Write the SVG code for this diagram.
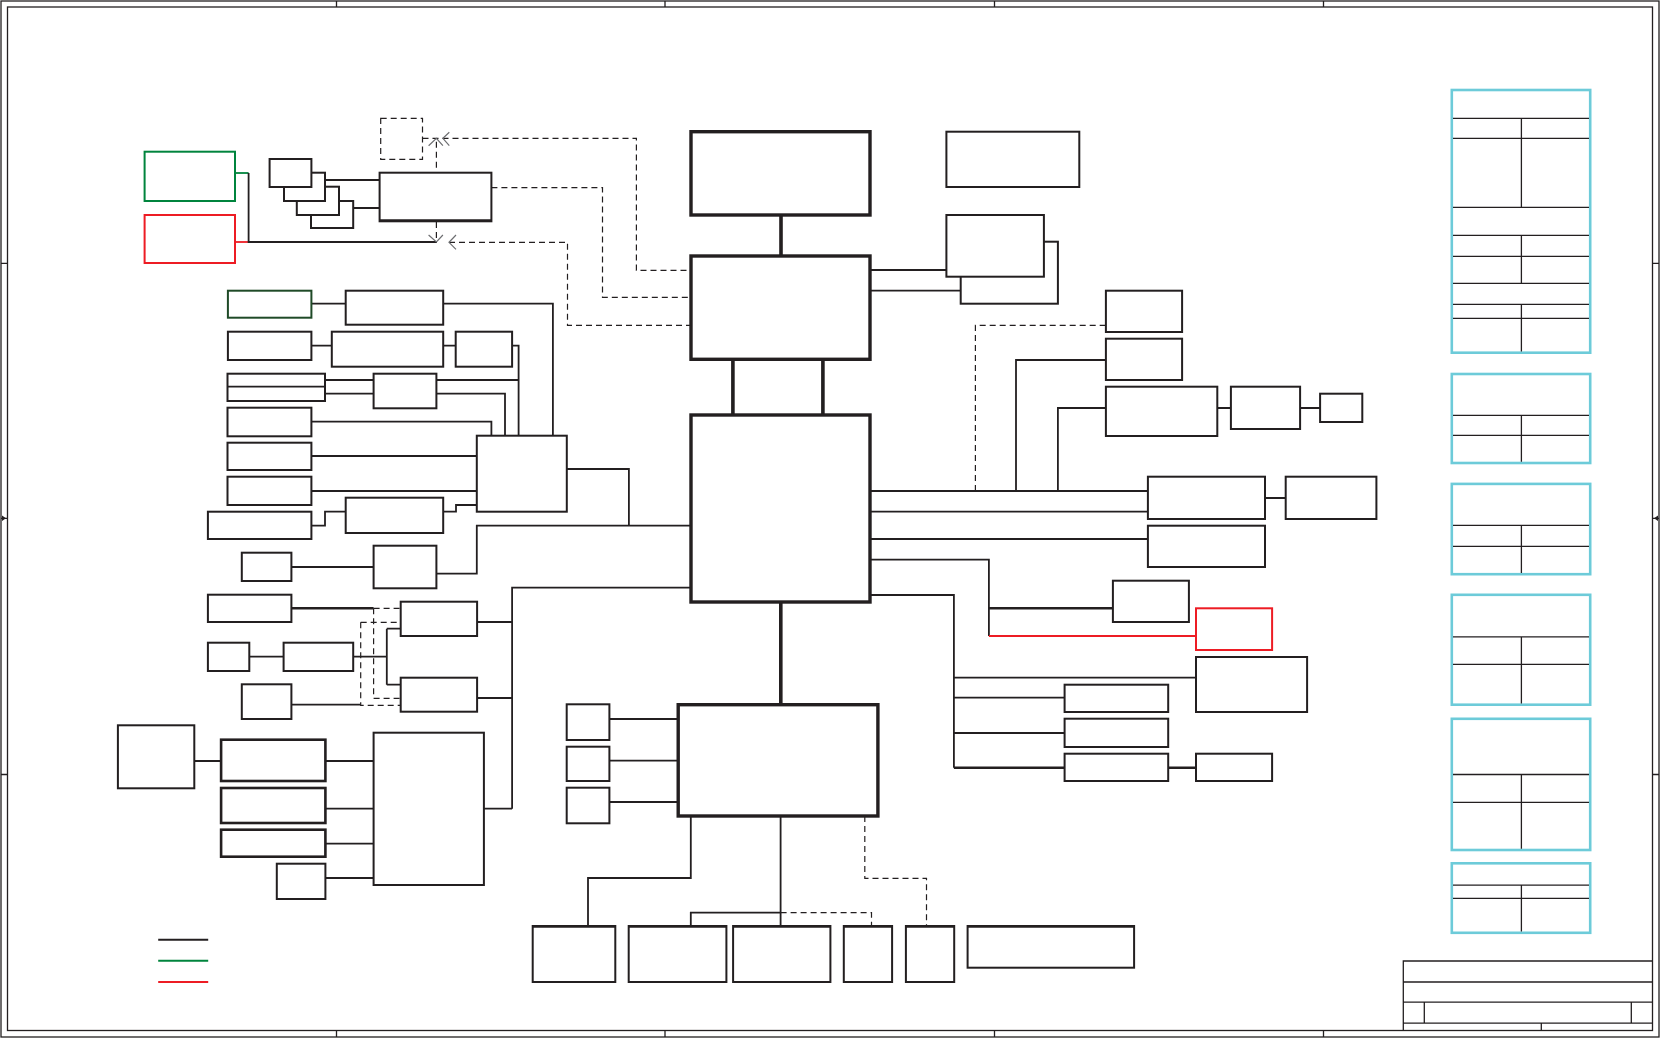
<svg xmlns="http://www.w3.org/2000/svg" width="1660" height="1038" viewBox="0 0 1660 1038">
<style>
.bx{fill:#fff;stroke:#231f20;stroke-width:2}
.bxt{fill:#fff;stroke:#231f20;stroke-width:2.6}
.chip{fill:#fff;stroke:#231f20;stroke-width:3.4}
.ln{fill:none;stroke:#231f20;stroke-width:1.8}
.lnt{fill:none;stroke:#231f20;stroke-width:2.6}
.lnc{fill:none;stroke:#231f20;stroke-width:3.6}
.ds{fill:none;stroke:#231f20;stroke-width:1.2;stroke-dasharray:6 4}
.ar{fill:none;stroke:#6d6e71;stroke-width:1.2}
.fr{fill:none;stroke:#231f20;stroke-width:1.3}
.tb{fill:none;stroke:#6dcbd9;stroke-width:2.6}
.tl{fill:none;stroke:#231f20;stroke-width:1.3}
.grn{fill:#fff;stroke:#00843d;stroke-width:2}
.red{fill:#fff;stroke:#ed1c24;stroke-width:2}
</style>
<rect width="1660" height="1038" fill="#fff"/>
<g id="frame">
<rect class="fr" x="1" y="1" width="1658" height="1036"/>
<rect class="fr" x="7.5" y="7" width="1645" height="1023.5"/>
<path class="fr" d="M336.5 1V7M665 1V7M994.5 1V7M1323.5 1V7M336.5 1030.5V1037M665 1030.5V1037M994.5 1030.5V1037M1323.5 1030.5V1037M1 263.3H7.5M1 774.5H7.5M1652.5 263.3H1659M1652.5 774.5H1659M1 518.3H7.5M1652.5 518.3H1659"/>
<path d="M2 515.5L6 518.3L2 521.1Z M1658 515.5L1654 518.3L1658 521.1Z" fill="#231f20"/>
</g>
<g id="connectors">
<path d="M235 173H248.6" stroke="#00843d" stroke-width="1.8" fill="none"/>
<path d="M235 242H248.6" stroke="#ed1c24" stroke-width="1.8" fill="none"/>
<path class="ln" d="M248.6 173V242H437"/>
<path class="ln" d="M311.4 173H325V201M325 180H379.6M339 201V215M353.2 208H379.6"/>
<path class="ds" d="M422.5 138.3H636.4V270.3H691"/>
<path class="ds" d="M436.4 167.7V139"/>
<path class="ds" d="M491.4 187.7H602.5V297.3H691"/>
<path class="ds" d="M436.4 222V241"/>
<path class="ds" d="M449 242.3H567.5V325.3H691"/>
<path class="ar" d="M428.6 145.7L436.4 138.3L442.9 145.7M449.3 132.3L442.9 138.3L449.3 145.7M428.6 235L436.4 242L442.9 235M456 235L449 242.3L456 249.3"/>
<path class="lnc" d="M781 215V256M732.9 359V415M822.9 359V415M780.8 602V704.7"/>
<path class="ln" d="M870 270H946.4M870 290.7H960.7"/>
<path class="ds" d="M975.4 491V325.3H1105.9"/>
<path class="ln" d="M1016 491V360H1105.9M1057.9 491V408H1105.9M1217.3 408H1230.9M1300.1 408H1320.1"/>
<path class="ln" d="M870 491H1147.9M870 511.7H1147.9M870 539H1147.9M1265 498H1285.7"/>
<path class="ln" d="M870 559.7H988.9V636"/>
<path d="M988.9 636H1196" stroke="#ed1c24" stroke-width="1.8" fill="none"/>
<path class="lnt" d="M988.9 608.3H1112.9"/>
<path class="ln" d="M870 595H953.9V767.7M953.9 677.7H1196M953.9 697.7H1064.6M953.9 733H1064.6"/>
<path class="lnt" d="M953.9 767.7H1064.6M1168.2 767.7H1196"/>
<path class="ln" d="M311.4 303.7H345.7M443.2 303.7H552.9V435.7"/>
<path class="ln" d="M311.4 345.7H331.8M443.2 345.7H455.7M512.1 345.7H518.6V435.7"/>
<path class="ln" d="M325 380H373.6M325 393.7H373.6M436.4 380H518.6M436.4 393.7H505V435.7"/>
<path class="ln" d="M311.4 421.7H491.4V435.7M311.4 456H476.8M311.4 491H476.8"/>
<path class="ln" d="M311.4 525.7H325V511.7H345.7M443.2 511.7H456V505H476.8"/>
<path class="ln" d="M566.8 469H628.9V525.7M691 525.7H476.8V573.7H436.4M291.4 567H373.6"/>
<path class="ln" d="M691 587.6H512.1V808.7M477.1 622H512.1M477.1 698H512.1M483.9 808.7H512.1"/>
<path class="lnt" d="M291.4 608.3H373.6"/>
<path class="ds" d="M373.6 608.3H400.7M373.6 608.3V698.3H400.7M360.7 622.3H400.7M360.7 622.3V705.3H400.7"/>
<path class="ln" d="M249.3 656.7H283.6M353.2 656.7H386.8M386.8 628.7V684.7M386.8 628.7H400.7M386.8 684.7H400.7M291.4 704.7H360.7"/>
<path class="ln" d="M194.3 761H221.1M325.4 761H373.6M325.4 808.7H373.6M325.4 843.7H373.6M325.4 878H373.6"/>
<path class="ln" d="M609.4 719H678.2M609.4 760.7H678.2M609.4 802H678.2"/>
<path class="ln" d="M690.8 816V878H588V926M780.6 816V926M780.6 912.7H690.8V926"/>
<path class="ds" d="M780.6 912.7H871.5V926M864.8 816V878.3H926.5V926"/>
</g>
<g id="legend">
<path d="M158.2 939.7H208.2" stroke="#231f20" stroke-width="2"/>
<path d="M158.2 960.7H208.2" stroke="#00843d" stroke-width="2"/>
<path d="M158.2 982H208.2" stroke="#ed1c24" stroke-width="2"/>
</g>
<g id="pwr-green"><rect class="grn" x="144.6" y="151.7" width="90.4" height="49.3"/></g>
<g id="pwr-red"><rect class="red" x="144.6" y="215" width="90.4" height="48"/></g>
<g id="stack4"><rect class="bx" x="311" y="201" width="42.2" height="27"/></g>
<g id="stack3"><rect class="bx" x="296.8" y="186.7" width="42.2" height="28.3"/></g>
<g id="stack2"><rect class="bx" x="284" y="172.7" width="41" height="28.3"/></g>
<g id="stack1"><rect class="bx" x="269.6" y="159" width="41.8" height="28"/></g>
<g id="nodeH"><rect class="bx" x="379.6" y="172.7" width="111.8" height="48.6"/><path class="lnt" d="M379.6 220.6H491.4"/></g>
<g id="dashbox"><rect class="ds" x="380.7" y="118.3" width="41.8" height="41"/></g>
<g id="chip1"><rect class="chip" x="691" y="131.7" width="179" height="83.3"/></g>
<g id="chip2"><rect class="chip" x="691" y="256" width="179" height="103.3"/></g>
<g id="chip3"><rect class="chip" x="691" y="415" width="179" height="187"/></g>
<g id="chip4"><rect class="chip" x="678.2" y="704.7" width="199.7" height="111.3"/></g>
<g id="boxA"><rect class="bx" x="946.4" y="131.7" width="132.9" height="55.3"/></g>
<g id="boxB2"><rect class="bx" x="960.7" y="241.7" width="97.2" height="62"/></g>
<g id="boxB"><rect class="bx" x="946.4" y="215" width="97.5" height="61.7"/></g>
<g id="boxC"><rect class="bx" x="1105.9" y="290.7" width="76.2" height="41.3"/></g>
<g id="boxD"><rect class="bx" x="1105.9" y="338.7" width="76.2" height="41.3"/></g>
<g id="boxE"><rect class="bx" x="1105.9" y="386.7" width="111.4" height="49.3"/></g>
<g id="boxF"><rect class="bx" x="1230.9" y="386.7" width="69.2" height="42.3"/></g>
<g id="boxG"><rect class="bx" x="1320.1" y="393.7" width="42.2" height="28.3"/></g>
<g id="boxCA"><rect class="bx" x="1147.9" y="476.7" width="117.1" height="42.3"/></g>
<g id="boxCB"><rect class="bx" x="1285.7" y="476.7" width="90.7" height="42.3"/></g>
<g id="boxCC"><rect class="bx" x="1147.9" y="525.7" width="117.1" height="41.3"/></g>
<g id="boxCD"><rect class="bx" x="1112.9" y="580.7" width="76" height="41.3"/></g>
<g id="boxCE"><rect class="red" x="1196" y="608.3" width="76.1" height="41.7"/></g>
<g id="boxCF"><rect class="bx" x="1196" y="657" width="111.1" height="55"/></g>
<g id="boxCG"><rect class="bx" x="1064.6" y="684.7" width="103.6" height="27.3"/></g>
<g id="boxCH"><rect class="bx" x="1064.6" y="718.7" width="103.6" height="28.3"/></g>
<g id="boxCI"><rect class="bx" x="1064.6" y="753.7" width="103.6" height="27.3"/></g>
<g id="boxCJ"><rect class="bx" x="1196" y="753.7" width="76.1" height="27.3"/></g>
<g id="boxDG"><rect x="227.9" y="290.7" width="83.5" height="27" fill="#fff" stroke="#1f4a27" stroke-width="2"/></g>
<g id="boxI"><rect class="bx" x="345.7" y="290.7" width="97.5" height="34"/></g>
<g id="boxJ"><rect class="bx" x="227.9" y="331.7" width="83.5" height="28.3"/></g>
<g id="boxK"><rect class="bx" x="331.8" y="331.7" width="111.4" height="35"/></g>
<g id="boxL"><rect class="bx" x="455.7" y="331.7" width="56.4" height="35"/></g>
<g id="boxM"><rect class="bx" x="227.5" y="373.7" width="97.5" height="27.3"/><path class="ln" d="M227.5 386.7H325"/></g>
<g id="boxN"><rect class="bx" x="373.6" y="373.7" width="62.8" height="34.6"/></g>
<g id="boxO"><rect class="bx" x="227.5" y="407.7" width="83.9" height="28.6"/></g>
<g id="hubP"><rect class="bx" x="476.8" y="435.7" width="90" height="76"/></g>
<g id="boxQ"><rect class="bx" x="227.5" y="442.7" width="83.9" height="27.3"/></g>
<g id="boxR"><rect class="bx" x="227.5" y="476.7" width="83.9" height="28.3"/></g>
<g id="boxS"><rect class="bx" x="207.9" y="511.7" width="103.5" height="27.3"/></g>
<g id="boxT"><rect class="bx" x="345.7" y="497.7" width="97.5" height="35.3"/></g>
<g id="boxU"><rect class="bx" x="373.6" y="545.7" width="62.8" height="42.6"/></g>
<g id="boxV"><rect class="bx" x="241.8" y="552.7" width="49.6" height="28.3"/></g>
<g id="boxW"><rect class="bx" x="207.9" y="594.7" width="83.5" height="27.3"/></g>
<g id="boxX1"><rect class="bx" x="400.7" y="601.7" width="76.4" height="34.3"/></g>
<g id="boxX2"><rect class="bx" x="400.7" y="677.7" width="76.4" height="34"/></g>
<g id="boxY"><rect class="bx" x="207.9" y="642.7" width="41.4" height="28.3"/></g>
<g id="boxZ"><rect class="bx" x="283.6" y="642.7" width="69.6" height="28.3"/></g>
<g id="boxAA"><rect class="bx" x="241.8" y="684.3" width="49.6" height="34.7"/></g>
<g id="boxAB"><rect class="bx" x="117.9" y="725.3" width="76.4" height="63"/></g>
<g id="boxAC"><rect class="bxt" x="221.1" y="739.7" width="104.3" height="41.3"/></g>
<g id="boxAD"><rect class="bxt" x="221.1" y="788" width="104.3" height="35"/></g>
<g id="boxAE"><rect class="bxt" x="221.1" y="829.7" width="104.3" height="27"/></g>
<g id="boxAF"><rect class="bx" x="276.8" y="863.7" width="48.6" height="35.3"/></g>
<g id="boxAG"><rect class="bx" x="373.6" y="732.7" width="110.3" height="152.3"/></g>
<g id="sm1"><rect class="bx" x="566.7" y="704.3" width="42.7" height="35.7"/></g>
<g id="sm2"><rect class="bx" x="566.7" y="746.7" width="42.7" height="34.3"/></g>
<g id="sm3"><rect class="bx" x="566.7" y="787.7" width="42.7" height="35.6"/></g>
<g id="boxBA"><rect class="bx" x="532.7" y="926" width="82.6" height="56"/><path class="lnt" d="M532.7 926.4H615.3"/></g>
<g id="boxBB"><rect class="bx" x="628.7" y="926" width="97.7" height="56"/><path class="lnt" d="M628.7 926.4H726.4"/></g>
<g id="boxBC"><rect class="bx" x="733.1" y="926" width="97.3" height="56"/><path class="lnt" d="M733.1 926.4H830.4"/></g>
<g id="boxBD"><rect class="bx" x="843.8" y="926" width="48.3" height="56"/><path class="lnt" d="M843.8 926.4H892.1"/></g>
<g id="boxBE"><rect class="bx" x="905.9" y="926" width="48.3" height="56"/><path class="lnt" d="M905.9 926.4H954.2"/></g>
<g id="boxBF"><rect class="bx" x="967.6" y="926" width="166.5" height="41.7"/><path class="lnt" d="M967.6 926.4H1134.1"/></g>
<g id="table1">
<rect class="tb" x="1451.8" y="90" width="138.4" height="262.7"/>
<path class="tl" d="M1453 118.3H1589M1453 138.3H1589M1453 207.3H1589M1453 235.3H1589M1453 256.3H1589M1453 283.3H1589M1453 304.3H1589M1453 318.3H1589M1521.4 118.3V207.3M1521.4 235.3V283.3M1521.4 304.3V351.5"/>
</g>
<g id="table2">
<rect class="tb" x="1451.8" y="374" width="138.4" height="89"/>
<path class="tl" d="M1453 415.3H1589M1453 435.3H1589M1521.4 415.3V461.8"/>
</g>
<g id="table3">
<rect class="tb" x="1451.8" y="483.9" width="138.4" height="90.3"/>
<path class="tl" d="M1453 525.4H1589M1453 546.4H1589M1521.4 525.4V573"/>
</g>
<g id="table4">
<rect class="tb" x="1451.8" y="594.8" width="138.4" height="109.9"/>
<path class="tl" d="M1453 636.8H1589M1453 664.3H1589M1521.4 636.8V703.5"/>
</g>
<g id="table5">
<rect class="tb" x="1451.8" y="718.8" width="138.4" height="131.2"/>
<path class="tl" d="M1453 774.5H1589M1453 802.3H1589M1521.4 774.5V848.8"/>
</g>
<g id="table6">
<rect class="tb" x="1451.8" y="863.3" width="138.4" height="69.5"/>
<path class="tl" d="M1453 885.1H1589M1453 898.4H1589M1521.4 885.1V931.6"/>
</g>
<g id="titleblock">
<path class="fr" d="M1403.3 1030.5V961H1652.5M1403.3 982H1652.5M1403.3 1002.2H1652.5M1403.3 1023.1H1652.5M1424.3 1002.2V1023.1M1631.3 1002.2V1023.1M1541.3 1023.1V1030.5"/>
</g>
</svg>
